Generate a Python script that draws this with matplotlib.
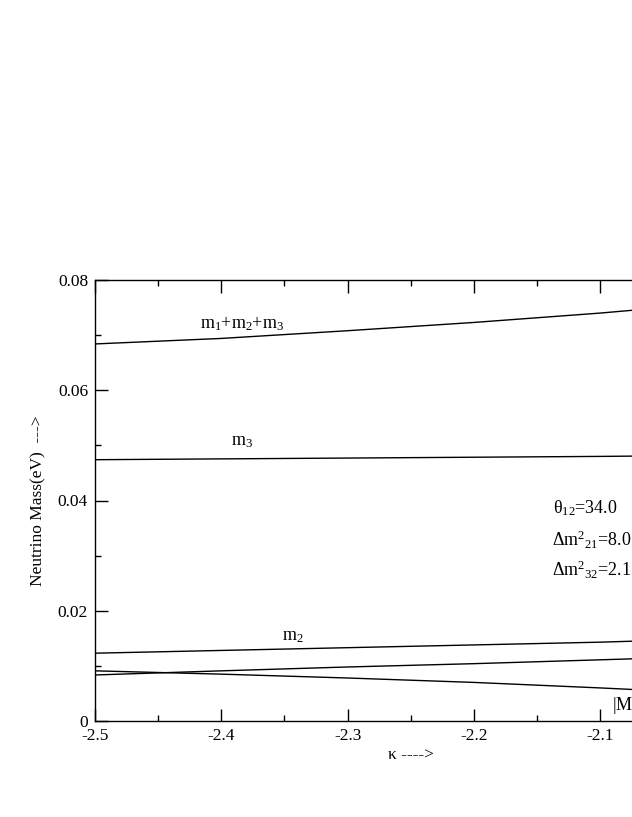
import matplotlib
matplotlib.use("Agg")
import matplotlib.pyplot as plt
from matplotlib.ticker import MultipleLocator

plt.rcParams['font.family'] = ['Liberation Serif', 'DejaVu Serif']
plt.rcParams['mathtext.fontset'] = 'custom'
plt.rcParams['mathtext.rm'] = 'Liberation Serif'
plt.rcParams['mathtext.it'] = 'Liberation Serif'
plt.rcParams['axes.unicode_minus'] = False

kappa = [-2.5, -2.4, -2.3, -2.2, -2.1, -2.0]
m_sum = [0.0684, 0.0694, 0.0708, 0.0723, 0.0740, 0.0760]
m3 = [0.0474, 0.04755, 0.0477, 0.04785, 0.0480, 0.0482]
m2 = [0.0123, 0.0128, 0.0133, 0.0138, 0.0143, 0.0150]
m1 = [0.00835, 0.0091, 0.0098, 0.0104, 0.0111, 0.0118]
Mee = [0.0091, 0.0085, 0.0078, 0.0070, 0.0060, 0.0049]

fig = plt.figure(figsize=(6.32, 8.17), dpi=100)
ax = fig.add_axes([95/632, 96/817, 631.5/632, 441/817])

for y in (m_sum, m3, m2, m1, Mee):
    ax.plot(kappa, y, color='black', lw=1.0)

ax.set_xlim(-2.5, -2.0)
ax.set_ylim(0, 0.08)
ax.xaxis.set_minor_locator(MultipleLocator(0.05))
ax.yaxis.set_minor_locator(MultipleLocator(0.01))
ax.set_yticks([0, 0.02, 0.04, 0.06, 0.08])
ax.set_yticklabels(['0', '0.02', '0.04', '0.06', '0.08'])
ax.set_xticks([-2.5, -2.4, -2.3, -2.2, -2.1, -2.0])
ax.set_xticklabels(['-2.5', '-2.4', '-2.3', '-2.2', '-2.1', '-2'])
ax.tick_params(which='both', direction='in', top=True, right=True, labelsize=12.5, width=1.0)
ax.tick_params(which='major', length=9, pad=5)
ax.tick_params(which='minor', length=4.5)
for s in ax.spines.values():
    s.set_linewidth(1.0)

ax.set_ylabel('Neutrino Mass(eV)  --->', fontsize=12.5, labelpad=8)
ax.set_xlabel('κ ---->', fontsize=12.5, labelpad=2)

fs = 13
ax.text(-2.417, 0.0713, r'm$_1$+m$_2$+m$_3$', fontsize=fs)
ax.text(-2.392, 0.0501, r'm$_3$', fontsize=fs)
ax.text(-2.352, 0.0147, r'm$_2$', fontsize=fs)
ax.text(-2.137, 0.0386, r'θ$_{12}$=34.0', fontsize=fs, va='center')
ax.text(-2.138, 0.0328, r'Δm$^{2}{}_{21}$=8.0×10$^{-5}$ eV$^2$', fontsize=fs, va='center')
ax.text(-2.138, 0.0274, r'Δm$^{2}{}_{32}$=2.1×10$^{-3}$ eV$^2$', fontsize=fs, va='center')
ax.text(-2.091, 0.0029, r'|M$_{ee}$|', fontsize=fs, va='center')

fig.savefig('out.png', dpi=100)
